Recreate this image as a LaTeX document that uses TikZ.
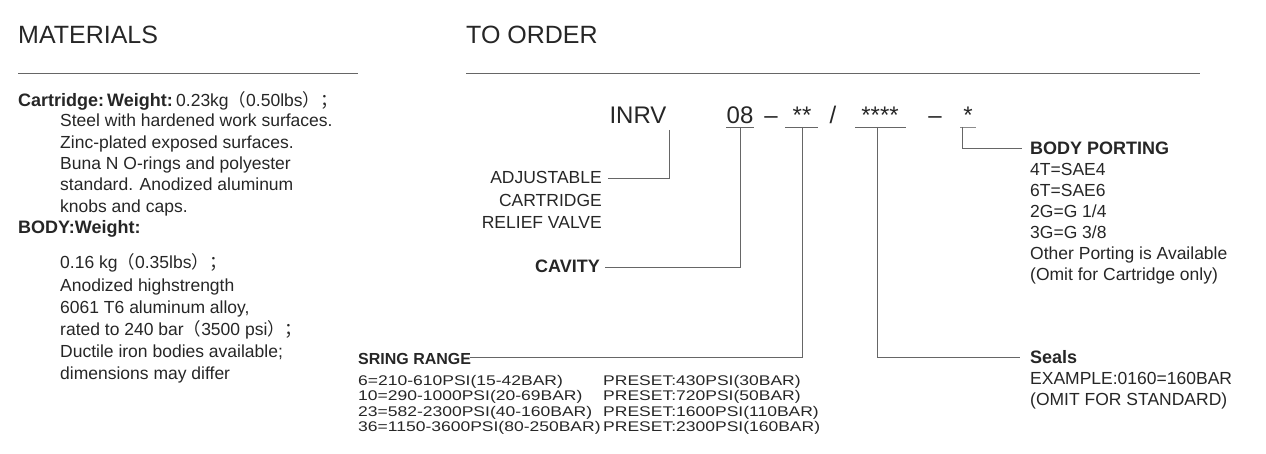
\documentclass[tikz,border=0pt]{standalone}
\usepackage{fontspec}
\setmainfont{Liberation Sans}
\newfontfamily\widefont{Liberation Sans}[FakeStretch=1.25]
\newfontfamily\cjk{Noto Sans CJK SC}
\newcommand{\myLp}{{\cjk （}}
\newcommand{\myRp}{{\cjk ）}}
\newcommand{\mySc}{{\cjk ；}}
\begin{document}
\begin{tikzpicture}[x=1pt,y=-1pt,
  txt/.style={anchor=base west,inner sep=0pt,font=\fontsize{17.5}{21}\selectfont,text=black!85},
  rtxt/.style={txt,anchor=base east},
  bld/.style={txt,font=\fontsize{18}{21}\selectfont\bfseries},
  rbld/.style={bld,anchor=base east},
  head/.style={anchor=base west,inner sep=0pt,font=\fontsize{25}{28}\selectfont,text=black!85},
  code/.style={anchor=base,inner sep=0pt,font=\fontsize{24}{26}\selectfont,text=black!85},
  tab/.style={anchor=base west,inner sep=0pt,font=\widefont\fontsize{14}{16}\selectfont,text=black!85},
  ln/.style={draw=black!60,line width=0.9pt}]
\useasboundingbox (0,0) rectangle (1266,454);
% headings
\node[head] (hm) at (18,44) {MATERIALS};
\node[head] (ho) at (466,44) {TO ORDER};
\coordinate (m1) at (18,73); \coordinate (m2) at (358,73);
\coordinate (o1) at (466,73); \coordinate (o2) at (1200,73);
\draw[ln] (m1) -- (m2); \draw[ln] (o1) -- (o2);
% materials
\node[bld] (cw) at (18,107) {Cartridge:\,Weight:};
\node[txt] (cw2) at (cw.base east) {\,0.23kg\myLp 0.50lbs\myRp\mySc};
\node[txt] (a1) at (60,127) {Steel with hardened work surfaces.};
\node[txt] (a2) at (60,149) {Zinc-plated exposed surfaces.};
\node[txt] (a3) at (60,170) {Buna N O-rings and polyester};
\node[txt] (a4) at (60,191) {standard. Anodized aluminum};
\node[txt] (a5) at (60,213) {knobs and caps.};
\node[bld] (bw) at (18,234) {BODY:Weight:};
\node[txt] (b1) at (60,269) {0.16 kg\myLp 0.35lbs\myRp\mySc};
\node[txt] (b2) at (60,291) {Anodized highstrength};
\node[txt] (b3) at (60,313) {6061 T6 aluminum alloy,};
\node[txt] (b4) at (60,335) {rated to 240 bar\myLp 3500 psi\myRp\mySc};
\node[txt] (b5) at (60,357) {Ductile iron bodies available;};
\node[txt] (b6) at (60,379) {dimensions may differ};
% code
\node[code] (inrv) at (638,124) {INRV};
\node[code] (c08) at (740,124) {08};
\node[code] (d1) at (771,124) {–};
\node[code] (s2) at (802,124) {**};
\node[code] (sl) at (833,124) {/};
\node[code] (s4) at (880,124) {****};
\node[code] (d2) at (935,124) {–};
\node[code] (s1) at (968,124) {*};
% underlines
\draw[ln] (726,127) -- (754,127);
\draw[ln] (785,127) -- (818,127);
\draw[ln] (855,127) -- (906,127);
\draw[draw=black!45,line width=0.9pt] (960,127) -- (976,127);
% left labels
\node[rtxt] (adj) at (602,184) {ADJUSTABLE};
\node[rtxt] (car) at (602,207) {CARTRIDGE};
\node[rtxt] (rel) at (602,229) {RELIEF VALVE};
\node[rbld] (cav) at (600,273) {CAVITY};
\node[bld,font=\fontsize{16}{19}\selectfont\bfseries] (sr) at (358,364) {SRING RANGE};
% table
\node[tab] (t1) at (358,385) {6=210-610PSI(15-42BAR)};
\node[tab] (t2) at (358,400) {10=290-1000PSI(20-69BAR)};
\node[tab] (t3) at (358,416) {23=582-2300PSI(40-160BAR)};
\node[tab] (t4) at (358,431) {36=1150-3600PSI(80-250BAR)};
\node[tab] (p1) at (603,385) {PRESET:430PSI(30BAR)};
\node[tab] (p2) at (603,400) {PRESET:720PSI(50BAR)};
\node[tab] (p3) at (603,416) {PRESET:1600PSI(110BAR)};
\node[tab] (p4) at (603,431) {PRESET:2300PSI(160BAR)};
% right labels
\node[bld] (bp) at (1030,155) {BODY PORTING};
\node[txt] (r1) at (1030,176) {4T=SAE4};
\node[txt] (r2) at (1030,197) {6T=SAE6};
\node[txt] (r3) at (1030,218) {2G=G 1/4};
\node[txt] (r4) at (1030,239) {3G=G 3/8};
\node[txt] (r5) at (1030,260) {Other Porting is Available};
\node[txt] (r6) at (1030,281) {(Omit for Cartridge only)};
\node[bld] (se) at (1030,363) {Seals};
\node[txt] (e1) at (1030,384) {EXAMPLE:0160=160BAR};
\node[txt] (e2) at (1030,405) {(OMIT FOR STANDARD)};
% connectors
\coordinate (k1) at (669,178); \coordinate (k2) at (740,267);
\coordinate (k3) at (802,357); \coordinate (k4) at (877,357);
\coordinate (k5) at (962,148);
\draw[ln] (669,130) -- (k1) -- (608,178);
\draw[ln] (740,127) -- (k2) -- (605,267);
\draw[ln] (802,127) -- (k3) -- (470,357);
\draw[ln] (877,127) -- (k4) -- (1020,357);
\draw[ln] (962,127) -- (k5) -- (1022,148);
\end{tikzpicture}
\end{document}
